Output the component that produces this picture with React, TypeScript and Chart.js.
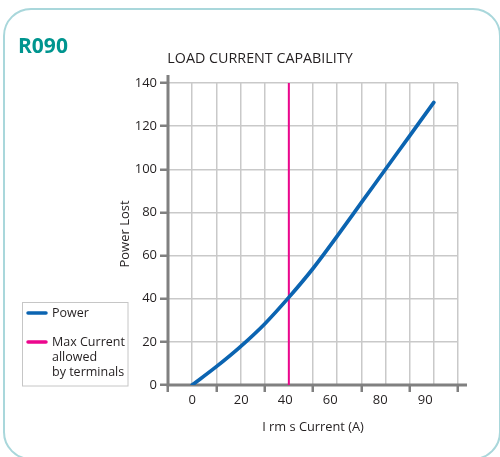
import { useEffect, useRef } from 'react';
import { Chart, registerables } from 'chart.js';

Chart.register(...registerables);

// ---- data (x in the chart's own linear axis units: one grid cell = 10) ----
const currentX = [0, 10, 20, 30, 40, 50, 60, 70, 80, 90, 100];
const powerLost = [0, 8.5, 17.8, 28.3, 40.6, 54, 69, 84.5, 100, 115.5, 131];
const maxCurrentX = [40, 40];
const maxCurrentY = [0, 140];
const xLabelValues = [0, 20.3, 38.5, 57.1, 77.8, 96.4];
const xLabelTexts = ['0', '20', '40', '60', '80', '90'];
const legendLabels = [['Power'], ['Max Current', 'allowed', 'by terminals']];

const BLUE = '#0b64b1';
const MAGENTA = '#ec068d';
const AXIS = '#808080';
const GRID = '#c9c9c9';
const TEXT = '#231f20';
const FONT = "'Open Sans', sans-serif";

const decorPlugin = {
  id: 'decor',
  beforeDatasetsDraw(chart: any) {
    const { ctx, chartArea } = chart;
    ctx.save();
    ctx.strokeStyle = AXIS;
    ctx.lineWidth = 3;
    ctx.beginPath();
    ctx.moveTo(chartArea.left, chartArea.top - 8);
    ctx.lineTo(chartArea.left, chartArea.bottom);
    ctx.moveTo(chartArea.left - 1.5, chartArea.bottom);
    ctx.lineTo(chartArea.right + 9, chartArea.bottom);
    ctx.stroke();
    ctx.restore();
  },
  afterDraw(chart: any) {
    const { ctx } = chart;
    ctx.save();
    // heading
    ctx.fillStyle = '#00958f';
    ctx.font = `bold 21px ${FONT}`;
    ctx.textBaseline = 'alphabetic';
    ctx.textAlign = 'left';
    ctx.fillText('R090', 18, 53);
    // legend box
    ctx.strokeStyle = '#c6c6c6';
    ctx.lineWidth = 1;
    ctx.strokeRect(22.5, 302.5, 105.5, 83.5);
    const colors = [BLUE, MAGENTA];
    const rows = [313, 342];
    ctx.font = `12.5px ${FONT}`;
    ctx.textBaseline = 'middle';
    legendLabels.forEach((lines, i) => {
      ctx.strokeStyle = colors[i];
      ctx.lineWidth = 3.5;
      ctx.lineCap = 'round';
      ctx.beginPath();
      ctx.moveTo(28, rows[i]);
      ctx.lineTo(46, rows[i]);
      ctx.stroke();
      ctx.fillStyle = TEXT;
      lines.forEach((t, j) => ctx.fillText(t, 52, rows[i] + j * 15.2));
    });
    ctx.restore();
  },
};

export default function App() {
  const ref = useRef<HTMLCanvasElement | null>(null);

  useEffect(() => {
    const canvas = ref.current;
    if (!canvas) return;
    const chart = new Chart(canvas, {
      type: 'line',
      data: {
        datasets: [
          {
            label: 'Power',
            data: currentX.map((x, i) => ({ x, y: powerLost[i] })),
            borderColor: BLUE,
            backgroundColor: BLUE,
            borderWidth: 3.7,
            borderCapStyle: 'round',
            pointRadius: 0,
            cubicInterpolationMode: 'monotone',
            xAxisID: 'x',
            yAxisID: 'y',
          },
          {
            label: 'Max Current allowed by terminals',
            data: maxCurrentX.map((x, i) => ({ x, y: maxCurrentY[i] })),
            borderColor: MAGENTA,
            backgroundColor: MAGENTA,
            borderWidth: 2,
            pointRadius: 0,
            xAxisID: 'x',
            yAxisID: 'y',
          },
        ],
      },
      options: {
        animation: false,
        responsive: false,
        maintainAspectRatio: false,
        layout: { padding: { top: 0, left: 62, right: 42, bottom: 0 } },
        plugins: {
          legend: { display: false },
          tooltip: { enabled: false },
          title: {
            display: true,
            text: 'LOAD CURRENT CAPABILITY',
            color: TEXT,
            font: { family: FONT, size: 14.3, weight: 'normal' },
            padding: { top: 50, bottom: 15.8 },
          },
        },
        scales: {
          x: {
            type: 'linear',
            axis: 'x',
            position: 'bottom',
            weight: 0,
            min: -10,
            max: 110,
            ticks: { display: false, stepSize: 10 },
            grid: {
              color: GRID,
              lineWidth: 1.5,
              tickLength: 7,
              tickWidth: 2.5,
              tickColor: (c: any) =>
                c.tick && Math.round(c.tick.value) % 20 !== 0 ? AXIS : 'rgba(0,0,0,0)',
            },
            border: { display: false },
            afterFit: (s: any) => {
              s.height = 7;
            },
          },
          xl: {
            type: 'linear',
            axis: 'x',
            position: 'bottom',
            weight: 1,
            min: -10,
            max: 110,
            grid: { display: false, drawTicks: false },
            border: { display: false },
            afterBuildTicks: (s: any) => {
              s.ticks = xLabelValues.map((v) => ({ value: v }));
            },
            ticks: {
              autoSkip: false,
              maxRotation: 0,
              padding: 0,
              color: TEXT,
              font: { family: FONT, size: 13 },
              callback: (_v: any, i: number) => xLabelTexts[i],
            },
            title: {
              display: true,
              text: 'I rm s Current (A)',
              color: TEXT,
              font: { family: FONT, size: 12.8 },
              padding: { top: 0, bottom: 21.5 },
            },
            afterFit: (s: any) => {
              s.height = 65;
            },
          },
          y: {
            type: 'linear',
            position: 'left',
            min: 0,
            max: 140,
            ticks: {
              stepSize: 20,
              padding: 3,
              color: TEXT,
              font: { family: FONT, size: 13 },
            },
            grid: {
              color: GRID,
              lineWidth: 1.5,
              tickLength: 8,
              tickWidth: 2.5,
              tickColor: AXIS,
            },
            border: { display: false },
            title: {
              display: true,
              text: 'Power Lost',
              color: TEXT,
              font: { family: FONT, size: 13 },
              padding: { top: 55, bottom: 0 },
            },
            afterFit: (s: any) => {
              s.width = 106;
            },
          },
        },
      },
      plugins: [decorPlugin],
    } as any);
    return () => chart.destroy();
  }, []);

  return (
    <div style={{ position: 'absolute', left: 0, top: 0, width: 500, height: 457, overflow: 'hidden', background: '#fff' }}>
      <div
        style={{
          position: 'absolute',
          left: 3,
          top: 8,
          width: 498,
          height: 452,
          border: '2px solid #a9d7db',
          borderRadius: 28,
          boxSizing: 'border-box',
        }}
      />
      <canvas ref={ref} width={500} height={457} style={{ position: 'absolute', left: 0, top: 0, width: 500, height: 457 }} />
    </div>
  );
}
